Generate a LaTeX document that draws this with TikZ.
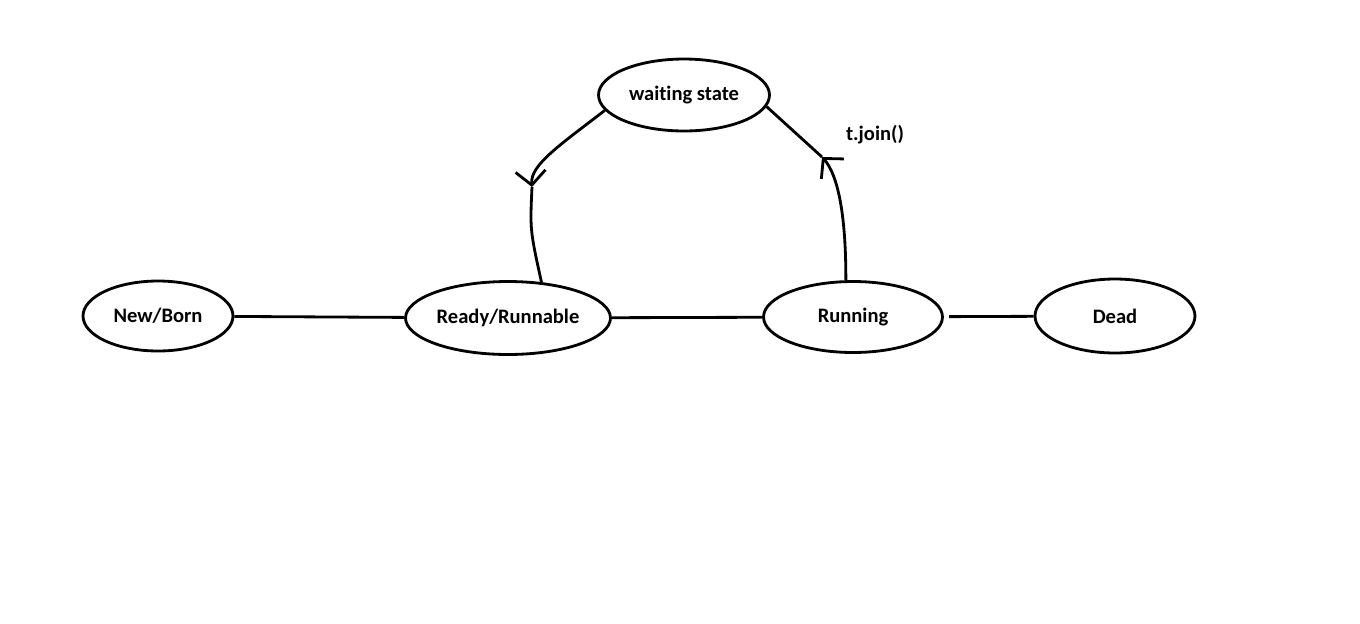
\documentclass[tikz,border=0pt]{standalone}
\usepackage{fontspec}
\setmainfont[Ligatures={NoCommon}]{Carlito}
\usetikzlibrary{shapes.geometric,arrows.meta}
\begin{document}
\begin{tikzpicture}[x=0.02cm,y=-0.02cm]
        \tikzstyle{state}=[ellipse,line width=1.6pt,draw=black,inner sep=0pt,font=\fontsize{11.7}{14}\selectfont\bfseries]
        \tikzstyle{edge}=[draw,line width=1.6pt]
        \tikzstyle{barb}=[-{Straight Barb[length=2.8mm,width=6mm]}]
        \useasboundingbox (0,0) rectangle (1360,623);
        \begin{scope}
           \node [state,minimum width=3cm,minimum height=1.4cm] (nb) at (158,316) {New/Born};
           \node [state,minimum width=4.1cm,minimum height=1.46cm] (rr) at (508,318) {Ready/Runnable};
           \node [state,minimum width=3.58cm,minimum height=1.42cm] (rn) at (853,317) {Running};
           \node [state,minimum width=3.2cm,minimum height=1.48cm] (dd) at (1115,316) {Dead};
           \node [state,minimum width=3.42cm,minimum height=1.44cm] (ws) at (684,95) {waiting state};
           \coordinate (tl) at (532,187);
           \coordinate (tr) at (822,157);
           \node [font=\fontsize{11.7}{14}\selectfont\bfseries] (tj) at (875,135) {t.join()};
           \path[edge] (nb) -- (rr);
           \path[edge] (rr) -- (rn);
           \path[edge,shorten <=3pt] (rn) -- (dd);
           \path[edge,barb] (ws.191) .. controls (560,145) and (530,165) .. (tl);
           \path[edge] (tl) .. controls (530,230) .. (rr.47);
           \path[edge,barb] (rn.101) .. controls (846,215) and (838,175) .. (tr);
           \path[edge] (tr) -- (ws.352);
        \end{scope}
      \end{tikzpicture}
\end{document}
